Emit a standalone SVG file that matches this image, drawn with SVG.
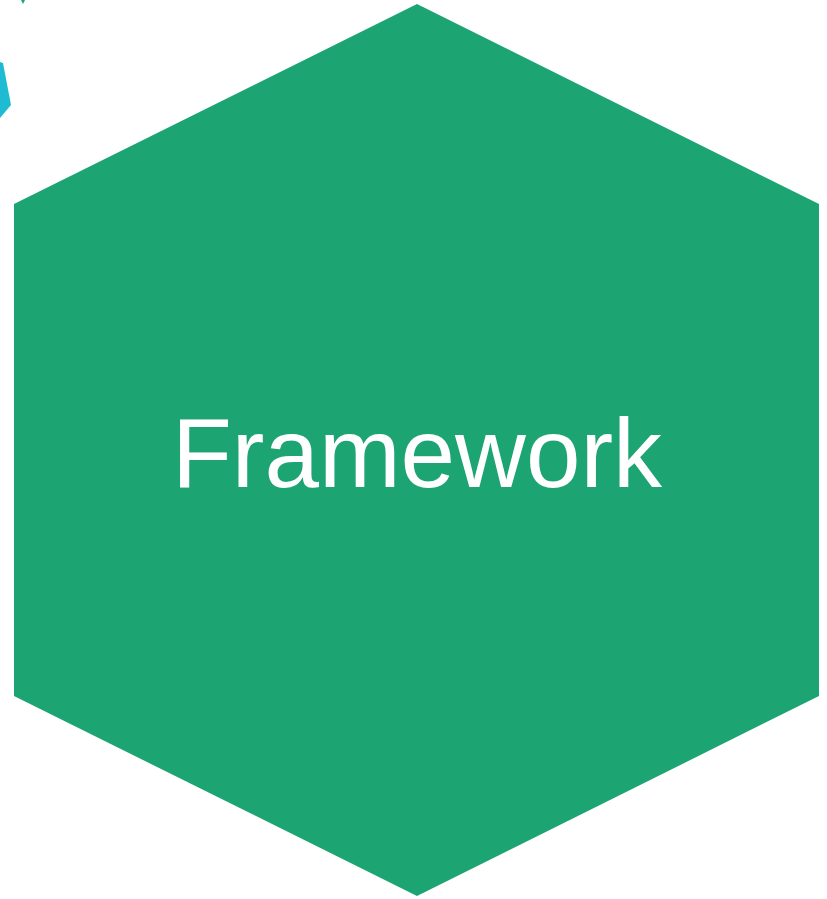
<svg xmlns="http://www.w3.org/2000/svg" width="827" height="899" viewBox="0 0 827 899">
  <style>
    .hex { fill: #1ca573; }
    .edge-hex { fill: #1fbbd3; }
    .label { font-family: "Liberation Sans", Arial, sans-serif; font-size: 98px; fill: #ffffff; text-anchor: middle; }
  </style>
  <rect width="827" height="899" fill="#ffffff"/>
  <!-- neighbouring hexagons, clipped at the frame edge -->
  <g id="neighbour-cyan">
    <polygon class="edge-hex" points="0,62 3,63 11,105 0,118"/>
  </g>
  <g id="neighbour-green">
    <polygon class="hex" points="21,0 25,0 23,4"/>
  </g>
  <g id="framework">
    <polygon class="hex" points="417,4 819,204 819,696 417,896 14,696 14,204"/>
    <text class="label" x="417" y="487">Framework</text>
  </g>
  <g id="connectors"/>
</svg>
